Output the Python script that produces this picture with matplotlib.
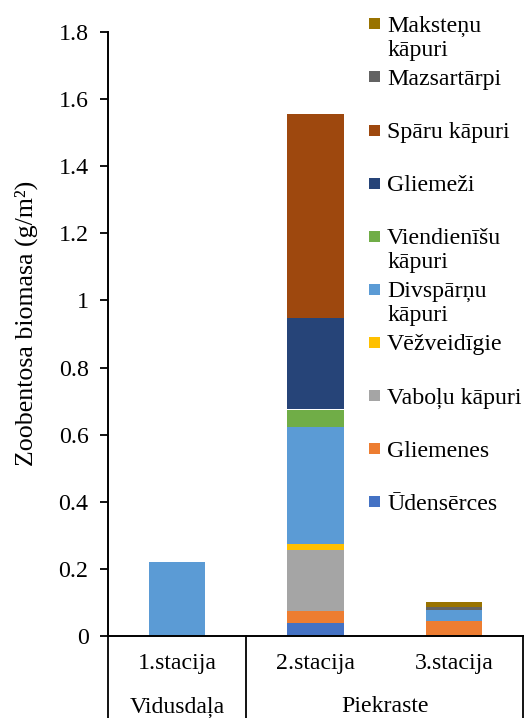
import matplotlib
matplotlib.use('Agg')
import matplotlib.pyplot as plt
from matplotlib.patches import Rectangle
import matplotlib.transforms as mtransforms
import numpy as np

plt.rcParams['font.family'] = ['Liberation Serif', 'DejaVu Serif']

# ---------------- data ----------------
stations = ['1.stacija', '2.stacija', '3.stacija']
groups = ['Vidusdaļa', 'Piekraste']
group_members = [[0], [1, 2]]

series_names = ['Ūdensērces', 'Gliemenes', 'Vaboļu kāpuri', 'Vēžveidīgie',
                'Divspārņu kāpuri', 'Viendienīšu kāpuri', 'Gliemeži',
                'Spāru kāpuri', 'Mazsartārpi', 'Maksteņu kāpuri']
legend_lines = [['Ūdensērces'], ['Gliemenes'], ['Vaboļu kāpuri'], ['Vēžveidīgie'],
                ['Divspārņu', 'kāpuri'], ['Viendienīšu', 'kāpuri'], ['Gliemeži'],
                ['Spāru kāpuri'], ['Mazsartārpi'], ['Maksteņu', 'kāpuri']]

udenserces = [0.0, 0.039, 0.0]
gliemenes = [0.0, 0.036, 0.046]
vabolu = [0.0, 0.182, 0.0]
vezveidigie = [0.0, 0.018, 0.0]
divsparnu = [0.22, 0.347, 0.031]
viendienisu = [0.0, 0.053, 0.0]
gliemezi = [0.0, 0.272, 0.0]
sparu = [0.0, 0.61, 0.0]
mazsartarpi = [0.0, 0.0, 0.010]
makstenu = [0.0, 0.0, 0.013]
series_values = [udenserces, gliemenes, vabolu, vezveidigie, divsparnu,
                 viendienisu, gliemezi, sparu, mazsartarpi, makstenu]

colors = ['#4472C4', '#ED7D31', '#A5A5A5', '#FFC000', '#5B9BD5',
          '#70AD47', '#264478', '#9E480E', '#636363', '#997300']

yticks = [0, 0.2, 0.4, 0.6, 0.8, 1.0, 1.2, 1.4, 1.6, 1.8]
ytick_labels = ['0', '0.2', '0.4', '0.6', '0.8', '1', '1.2', '1.4', '1.6', '1.8']
ylabel = 'Zoobentosa biomasa (g/m²)'

# ---------------- figure ----------------
W, H = 527, 718
FS = 17.2
fig = plt.figure(figsize=(W / 100, H / 100), dpi=100)
x0, x1, ytop, ybot = 108, 523, 32, 636
ax = fig.add_axes([x0 / W, 1 - ybot / H, (x1 - x0) / W, (ybot - ytop) / H])

x = np.arange(len(stations))
bottom = np.zeros(len(stations))
for vals, col in zip(series_values, colors):
    v = np.array(vals)
    ax.bar(x, v, width=0.405, bottom=bottom, color=col, linewidth=0)
    bottom += v

ax.set_xlim(-0.5, len(stations) - 0.5)
ax.set_ylim(0, 1.8)
ax.set_yticks(yticks)
ax.set_yticklabels(ytick_labels, fontsize=FS)
ax.set_xticks([])
ax.tick_params(axis='y', direction='out', length=5.5, width=1.3, pad=8.5)
for s in ['top', 'right']:
    ax.spines[s].set_visible(False)
for s in ['left', 'bottom']:
    ax.spines[s].set_linewidth(1.4)
ax.set_ylabel(ylabel, fontsize=18.6)
ax.yaxis.set_label_coords((38 - x0) / (x1 - x0), (ybot - 323) / (ybot - ytop))

# category table below axis
trans = mtransforms.blended_transform_factory(ax.transData, ax.transAxes)
h = ybot - ytop
y_lvl1 = (ybot - 664) / h
y_lvl2 = (ybot - 707) / h
y_end = (ybot - 740) / h
for i, st in enumerate(stations):
    ax.text(i, y_lvl1, st, transform=trans, ha='center', va='center', fontsize=FS)
bounds = [-0.5]
for g, members in zip(groups, group_members):
    ax.text(np.mean(members), y_lvl2, g, transform=trans, ha='center', va='center', fontsize=FS)
    bounds.append(members[-1] + 0.5)
for b in bounds:
    ax.plot([b, b], [0, y_end], transform=trans, color='black', lw=1.3, clip_on=False)

# legend (manual, reversed order)
leg_top = 23.8
leg_step = 53.1
for k, idx in enumerate(range(len(series_names) - 1, -1, -1)):
    yc = leg_top + k * leg_step
    fig.patches.append(Rectangle((369 / W, 1 - (yc + 5.5) / H), 11 / W, 11 / H,
                                 transform=fig.transFigure, facecolor=colors[idx],
                                 edgecolor='none'))
    for j, line in enumerate(legend_lines[idx]):
        fig.text(387 / W, 1 - (yc + 8 + j * 24) / H, line, fontsize=FS,
                 ha='left', va='baseline')

fig.savefig('out.png', dpi=100)
